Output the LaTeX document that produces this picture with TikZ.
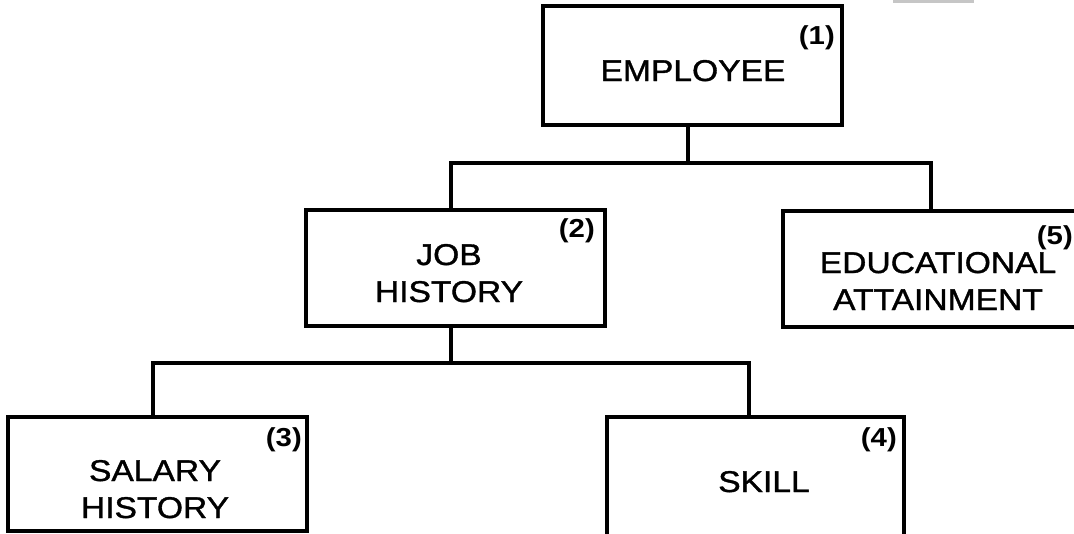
\documentclass[tikz,border=0pt]{standalone}
\usepackage{fontspec}
\setmainfont[FakeStretch=1.13]{Liberation Sans}
\newfontfamily\lblfont[FakeStretch=1.12,FakeBold=1.2]{Liberation Sans}
\begin{document}
\begin{tikzpicture}[x=1pt,y=-1pt,
  box/.style={draw,line width=3.3pt,rectangle,inner sep=0pt},
  lbl/.style={font=\lblfont\fontsize{30}{37}\selectfont,align=center,anchor=base,inner sep=0pt},
  num/.style={font=\fontsize{26}{30}\selectfont\bfseries,anchor=north east,inner sep=0pt},
  conn/.style={line width=3.3pt}]
\useasboundingbox (0,0) rectangle (1074,533);
\clip (0,0) rectangle (1074,533);
\fill[gray!45] (893,0) rectangle (974,2.5);
% boxes
\node[box,minimum width=299pt,minimum height=119pt] (emp) at (692.5,65.5) {};
\node[box,minimum width=299pt,minimum height=116pt] (job) at (455.5,268) {};
\node[box,minimum width=296pt,minimum height=116pt] (edu) at (931,269) {};
\node[box,minimum width=299pt,minimum height=114pt] (sal) at (157.5,474) {};
\node[box,minimum width=297pt,minimum height=130pt] (skl) at (755.5,482) {};
% texts (base = baseline of last line)
\node[lbl] (tEmp) at (693,81) {EMPLOYEE};
\node[lbl] (tJob) at (449,302) {JOB\\HISTORY};
\node[lbl] (tEdu) at (938,310) {EDUCATIONAL\\ATTAINMENT};
\node[lbl] (tSal) at (155,518) {SALARY\\HISTORY};
\node[lbl] (tSkl) at (764,492) {SKILL};
% numbers
\node[num] (n1) at (835,25) {(1)};
\node[num] (n2) at (595,218) {(2)};
\node[num] (n3) at (302,427) {(3)};
\node[num] (n4) at (897,427) {(4)};
\node[num] (n5) at (1073,225) {(5)};
% connectors
\coordinate (b1) at (688,163);
\coordinate (b2) at (451,363);
\draw[conn] ([xshift=-4.5pt]emp.south) -- (b1);
\draw[conn] ([xshift=-4.5pt]job.north) |- (b1) -| (edu.north);
\draw[conn] ([xshift=-4.5pt]job.south) -- (b2);
\draw[conn] ([xshift=-4.5pt]sal.north) |- (b2) -| ([xshift=-6.5pt]skl.north);
\end{tikzpicture}
\end{document}
